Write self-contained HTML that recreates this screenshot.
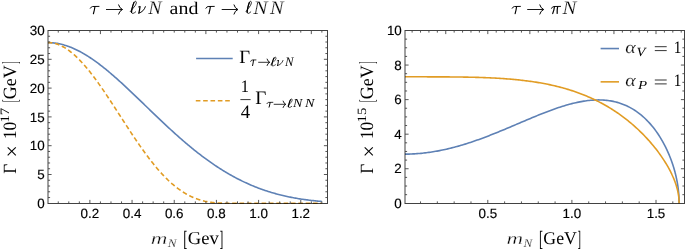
<!DOCTYPE html>
<html><head><meta charset="utf-8"><style>
html,body{margin:0;padding:0;background:#fff;}
svg{display:block;will-change:transform;} text{text-rendering:geometricPrecision;}
</style></head><body>
<svg width="685" height="249" viewBox="0 0 685 249">
<rect width="685" height="249" fill="#fff"/>
<defs><clipPath id="cl"><rect x="48" y="28" width="280" height="176"/></clipPath><clipPath id="cr"><rect x="405" y="28" width="280" height="176"/></clipPath></defs>
<g clip-path="url(#cl)" fill="none" stroke-width="1.6"><path d="M47.70,42.60 L48.75,42.61 L49.81,42.64 L50.86,42.69 L51.92,42.76 L52.97,42.85 L54.03,42.96 L55.08,43.09 L56.14,43.24 L57.19,43.41 L58.25,43.61 L59.30,43.82 L60.35,44.04 L61.41,44.29 L62.46,44.56 L63.52,44.85 L64.57,45.15 L65.63,45.48 L66.68,45.82 L67.74,46.18 L68.79,46.56 L69.84,46.95 L70.90,47.36 L71.95,47.80 L73.01,48.24 L74.06,48.71 L75.12,49.19 L76.17,49.68 L77.23,50.20 L78.28,50.73 L79.34,51.27 L80.39,51.83 L81.44,52.41 L82.50,53.00 L83.55,53.60 L84.61,54.22 L85.66,54.86 L86.72,55.50 L87.77,56.16 L88.83,56.84 L89.88,57.53 L90.93,58.23 L91.99,58.94 L93.04,59.67 L94.10,60.40 L95.15,61.15 L96.21,61.91 L97.26,62.69 L98.32,63.47 L99.37,64.26 L100.43,65.07 L101.48,65.88 L102.53,66.71 L103.59,67.54 L104.64,68.39 L105.70,69.24 L106.75,70.10 L107.81,70.97 L108.86,71.85 L109.92,72.74 L110.97,73.64 L112.02,74.54 L113.08,75.45 L114.13,76.37 L115.19,77.29 L116.24,78.22 L117.30,79.16 L118.35,80.10 L119.41,81.05 L120.46,82.00 L121.52,82.96 L122.57,83.93 L123.62,84.90 L124.68,85.87 L125.73,86.85 L126.79,87.84 L127.84,88.82 L128.90,89.81 L129.95,90.81 L131.01,91.81 L132.06,92.81 L133.11,93.81 L134.17,94.81 L135.22,95.82 L136.28,96.83 L137.33,97.84 L138.39,98.86 L139.44,99.87 L140.50,100.89 L141.55,101.90 L142.61,102.92 L143.66,103.94 L144.71,104.96 L145.77,105.98 L146.82,106.99 L147.88,108.01 L148.93,109.03 L149.99,110.05 L151.04,111.06 L152.10,112.08 L153.15,113.09 L154.20,114.11 L155.26,115.12 L156.31,116.13 L157.37,117.13 L158.42,118.14 L159.48,119.14 L160.53,120.14 L161.59,121.14 L162.64,122.14 L163.70,123.13 L164.75,124.12 L165.80,125.10 L166.86,126.09 L167.91,127.07 L168.97,128.04 L170.02,129.01 L171.08,129.98 L172.13,130.95 L173.19,131.90 L174.24,132.86 L175.29,133.81 L176.35,134.76 L177.40,135.70 L178.46,136.63 L179.51,137.57 L180.57,138.49 L181.62,139.41 L182.68,140.33 L183.73,141.24 L184.79,142.14 L185.84,143.04 L186.89,143.94 L187.95,144.82 L189.00,145.70 L190.06,146.58 L191.11,147.45 L192.17,148.31 L193.22,149.17 L194.28,150.02 L195.33,150.86 L196.38,151.70 L197.44,152.53 L198.49,153.36 L199.55,154.17 L200.60,154.99 L201.66,155.79 L202.71,156.59 L203.77,157.38 L204.82,158.16 L205.88,158.93 L206.93,159.70 L207.98,160.46 L209.04,161.22 L210.09,161.97 L211.15,162.70 L212.20,163.44 L213.26,164.16 L214.31,164.88 L215.37,165.59 L216.42,166.29 L217.47,166.99 L218.53,167.67 L219.58,168.35 L220.64,169.02 L221.69,169.69 L222.75,170.34 L223.80,170.99 L224.86,171.64 L225.91,172.27 L226.96,172.89 L228.02,173.51 L229.07,174.12 L230.13,174.73 L231.18,175.32 L232.24,175.91 L233.29,176.49 L234.35,177.06 L235.40,177.62 L236.46,178.18 L237.51,178.73 L238.56,179.27 L239.62,179.81 L240.67,180.33 L241.73,180.85 L242.78,181.36 L243.84,181.87 L244.89,182.36 L245.95,182.85 L247.00,183.33 L248.06,183.80 L249.11,184.27 L250.16,184.73 L251.22,185.18 L252.27,185.62 L253.33,186.06 L254.38,186.49 L255.44,186.91 L256.49,187.33 L257.55,187.74 L258.60,188.14 L259.65,188.53 L260.71,188.92 L261.76,189.30 L262.82,189.67 L263.87,190.04 L264.93,190.40 L265.98,190.75 L267.04,191.10 L268.09,191.44 L269.15,191.77 L270.20,192.09 L271.25,192.41 L272.31,192.73 L273.36,193.04 L274.42,193.34 L275.47,193.63 L276.53,193.92 L277.58,194.20 L278.64,194.48 L279.69,194.75 L280.74,195.01 L281.80,195.27 L282.85,195.52 L283.91,195.77 L284.96,196.01 L286.02,196.25 L287.07,196.48 L288.13,196.70 L289.18,196.92 L290.24,197.14 L291.29,197.35 L292.34,197.55 L293.40,197.75 L294.45,197.94 L295.51,198.13 L296.56,198.32 L297.62,198.50 L298.67,198.67 L299.73,198.84 L300.78,199.01 L301.83,199.17 L302.89,199.32 L303.94,199.48 L305.00,199.62 L306.05,199.77 L307.11,199.91 L308.16,200.04 L309.22,200.17 L310.27,200.30 L311.32,200.42 L312.38,200.54 L313.43,200.66 L314.49,200.77 L315.54,200.88 L316.60,200.98 L317.65,201.08 L318.71,201.18 L319.76,201.28 L320.82,201.37 L321.87,201.46" stroke="#5e81b5"/><path d="M47.70,42.60 L48.75,42.61 L49.81,42.66 L50.86,42.74 L51.92,42.86 L52.97,43.02 L54.03,43.23 L55.08,43.48 L56.14,43.78 L57.19,44.12 L58.25,44.51 L59.30,44.93 L60.35,45.40 L61.41,45.91 L62.46,46.45 L63.52,47.03 L64.57,47.65 L65.63,48.30 L66.68,48.98 L67.74,49.70 L68.79,50.46 L69.84,51.24 L70.90,52.06 L71.95,52.92 L73.01,53.80 L74.06,54.72 L75.12,55.66 L76.17,56.64 L77.23,57.65 L78.28,58.69 L79.34,59.75 L80.39,60.85 L81.44,61.97 L82.50,63.12 L83.55,64.29 L84.61,65.49 L85.66,66.72 L86.72,67.97 L87.77,69.24 L88.83,70.54 L89.88,71.85 L90.93,73.19 L91.99,74.55 L93.04,75.93 L94.10,77.33 L95.15,78.75 L96.21,80.19 L97.26,81.64 L98.32,83.11 L99.37,84.59 L100.43,86.09 L101.48,87.60 L102.53,89.13 L103.59,90.67 L104.64,92.22 L105.70,93.78 L106.75,95.35 L107.81,96.94 L108.86,98.52 L109.92,100.12 L110.97,101.73 L112.02,103.34 L113.08,104.96 L114.13,106.58 L115.19,108.20 L116.24,109.83 L117.30,111.47 L118.35,113.10 L119.41,114.73 L120.46,116.37 L121.52,118.01 L122.57,119.64 L123.62,121.27 L124.68,122.90 L125.73,124.53 L126.79,126.15 L127.84,127.77 L128.90,129.38 L129.95,130.99 L131.01,132.59 L132.06,134.19 L133.11,135.77 L134.17,137.35 L135.22,138.92 L136.28,140.47 L137.33,142.02 L138.39,143.56 L139.44,145.08 L140.50,146.59 L141.55,148.09 L142.61,149.58 L143.66,151.05 L144.71,152.51 L145.77,153.95 L146.82,155.38 L147.88,156.79 L148.93,158.18 L149.99,159.56 L151.04,160.92 L152.10,162.26 L153.15,163.58 L154.20,164.89 L155.26,166.17 L156.31,167.44 L157.37,168.68 L158.42,169.91 L159.48,171.11 L160.53,172.29 L161.59,173.45 L162.64,174.59 L163.70,175.71 L164.75,176.80 L165.80,177.88 L166.86,178.93 L167.91,179.95 L168.97,180.96 L170.02,181.94 L171.08,182.89 L172.13,183.83 L173.19,184.73 L174.24,185.62 L175.29,186.48 L176.35,187.32 L177.40,188.13 L178.46,188.92 L179.51,189.68 L180.57,190.42 L181.62,191.14 L182.68,191.83 L183.73,192.50 L184.79,193.15 L185.84,193.77 L186.89,194.37 L187.95,194.94 L189.00,195.49 L190.06,196.02 L191.11,196.53 L192.17,197.01 L193.22,197.48 L194.28,197.92 L195.33,198.33 L196.38,198.73 L197.44,199.11 L198.49,199.46 L199.55,199.80 L200.60,200.12 L201.66,200.41 L202.71,200.69 L203.77,200.95 L204.82,201.20 L205.88,201.42 L206.93,201.63 L207.98,201.83 L209.04,202.00 L210.09,202.17 L211.15,202.31 L212.20,202.45 L213.26,202.57 L214.31,202.68 L215.37,202.78 L216.42,202.87 L217.47,202.94 L218.53,203.01 L219.58,203.07 L220.64,203.12 L221.69,203.16 L222.75,203.19 L223.80,203.22 L224.86,203.24 L225.91,203.26 L226.96,203.27 L228.02,203.28 L229.07,203.29 L230.13,203.30 L231.18,203.30 L232.24,203.30 L233.29,203.30 L234.35,203.30 L235.40,203.30 L236.46,203.30 L237.51,203.30 L321.87,203.30" stroke="#e19c24" stroke-dasharray="4.6 2.75"/></g>
<g clip-path="url(#cr)" fill="none" stroke-width="1.6" stroke-linejoin="round"><path d="M405.00,154.16 L406.33,154.14 L407.67,154.12 L409.00,154.09 L410.34,154.04 L411.67,153.99 L413.01,153.92 L414.34,153.85 L415.68,153.76 L417.01,153.67 L418.35,153.57 L419.68,153.45 L421.02,153.33 L422.35,153.19 L423.69,153.05 L425.02,152.90 L426.36,152.74 L427.69,152.56 L429.03,152.38 L430.36,152.19 L431.70,151.99 L433.03,151.78 L434.37,151.56 L435.70,151.33 L437.04,151.10 L438.38,150.85 L439.71,150.59 L441.05,150.33 L442.38,150.06 L443.72,149.77 L445.05,149.48 L446.39,149.18 L447.72,148.87 L449.06,148.56 L450.39,148.23 L451.73,147.90 L453.06,147.55 L454.40,147.20 L455.73,146.85 L457.07,146.48 L458.40,146.11 L459.74,145.72 L461.07,145.34 L462.41,144.94 L463.74,144.54 L465.08,144.12 L466.41,143.71 L467.75,143.28 L469.08,142.85 L470.42,142.41 L471.76,141.97 L473.09,141.51 L474.43,141.06 L475.76,140.59 L477.10,140.12 L478.43,139.64 L479.77,139.16 L481.10,138.68 L482.44,138.18 L483.77,137.69 L485.11,137.18 L486.44,136.67 L487.78,136.16 L489.11,135.64 L490.45,135.12 L491.78,134.60 L493.12,134.07 L494.45,133.53 L495.79,132.99 L497.12,132.45 L498.46,131.91 L499.79,131.36 L501.13,130.81 L502.47,130.26 L503.80,129.70 L505.14,129.14 L506.47,128.58 L507.81,128.02 L509.14,127.46 L510.48,126.89 L511.81,126.33 L513.15,125.76 L514.48,125.19 L515.82,124.62 L517.15,124.05 L518.49,123.48 L519.82,122.91 L521.16,122.34 L522.49,121.77 L523.83,121.20 L525.16,120.64 L526.50,120.07 L527.83,119.51 L529.17,118.95 L530.50,118.39 L531.84,117.83 L533.17,117.27 L534.51,116.72 L535.85,116.17 L537.18,115.62 L538.52,115.08 L539.85,114.54 L541.19,114.01 L542.52,113.48 L543.86,112.96 L545.19,112.44 L546.53,111.92 L547.86,111.42 L549.20,110.91 L550.53,110.42 L551.87,109.93 L553.20,109.45 L554.54,108.97 L555.87,108.51 L557.21,108.05 L558.54,107.60 L559.88,107.16 L561.21,106.72 L562.55,106.30 L563.88,105.89 L565.22,105.48 L566.55,105.09 L567.89,104.71 L569.23,104.34 L570.56,103.98 L571.90,103.64 L573.23,103.30 L574.57,102.98 L575.90,102.67 L577.24,102.38 L578.57,102.10 L579.91,101.84 L581.24,101.59 L582.58,101.35 L583.91,101.13 L585.25,100.93 L586.58,100.74 L587.92,100.58 L589.25,100.43 L590.59,100.30 L591.92,100.18 L593.26,100.09 L594.59,100.02 L595.93,99.96 L597.26,99.93 L598.60,99.92 L599.93,99.93 L601.27,99.97 L602.61,100.02 L603.94,100.11 L605.28,100.21 L606.61,100.34 L607.95,100.50 L609.28,100.68 L610.62,100.89 L611.95,101.13 L613.29,101.40 L614.62,101.70 L615.96,102.02 L617.29,102.38 L618.63,102.77 L619.96,103.19 L621.30,103.65 L622.63,104.14 L623.97,104.66 L625.30,105.22 L626.64,105.82 L627.97,106.46 L629.31,107.14 L630.64,107.85 L631.98,108.61 L633.31,109.41 L634.65,110.25 L635.99,111.14 L637.32,112.08 L638.66,113.06 L639.99,114.10 L641.33,115.18 L642.66,116.32 L644.00,117.52 L645.33,118.77 L646.67,120.08 L648.00,121.45 L649.34,122.89 L650.67,124.39 L652.01,125.97 L653.34,127.62 L654.68,129.34 L656.01,131.15 L657.35,133.05 L658.68,135.04 L660.02,137.12 L661.35,139.32 L662.69,141.63 L664.02,144.07 L665.36,146.65 L666.70,149.38 L668.03,152.30 L669.37,155.42 L670.70,158.79 L670.84,159.16 L670.99,159.54 L671.13,159.93 L671.27,160.31 L671.41,160.70 L671.56,161.10 L671.70,161.50 L671.84,161.90 L671.98,162.30 L672.13,162.72 L672.27,163.13 L672.41,163.55 L672.55,163.97 L672.70,164.40 L672.84,164.84 L672.98,165.28 L673.12,165.72 L673.27,166.17 L673.41,166.63 L673.55,167.09 L673.69,167.56 L673.84,168.03 L673.98,168.51 L674.12,169.00 L674.26,169.49 L674.41,169.99 L674.55,170.50 L674.69,171.02 L674.83,171.55 L674.98,172.08 L675.12,172.63 L675.26,173.18 L675.40,173.75 L675.55,174.32 L675.69,174.91 L675.83,175.51 L675.97,176.12 L676.12,176.75 L676.26,177.39 L676.40,178.05 L676.54,178.72 L676.69,179.42 L676.83,180.13 L676.97,180.87 L677.12,181.64 L677.26,182.43 L677.40,183.25 L677.54,184.10 L677.69,185.00 L677.83,185.94 L677.97,186.94 L678.11,187.99 L678.26,189.13 L678.40,190.37 L678.54,191.74 L678.68,193.29 L678.83,195.12 L678.97,197.52 L679.11,203.30" stroke="#5e81b5"/><path d="M405.00,76.81 L406.33,76.81 L407.67,76.81 L409.00,76.81 L410.34,76.81 L411.67,76.81 L413.01,76.81 L414.34,76.81 L415.68,76.81 L417.01,76.81 L418.35,76.81 L419.68,76.82 L421.02,76.82 L422.35,76.82 L423.69,76.82 L425.02,76.82 L426.36,76.82 L427.69,76.83 L429.03,76.83 L430.36,76.83 L431.70,76.83 L433.03,76.84 L434.37,76.84 L435.70,76.85 L437.04,76.85 L438.38,76.86 L439.71,76.86 L441.05,76.87 L442.38,76.87 L443.72,76.88 L445.05,76.89 L446.39,76.90 L447.72,76.91 L449.06,76.92 L450.39,76.93 L451.73,76.94 L453.06,76.95 L454.40,76.96 L455.73,76.98 L457.07,76.99 L458.40,77.01 L459.74,77.03 L461.07,77.05 L462.41,77.07 L463.74,77.09 L465.08,77.11 L466.41,77.13 L467.75,77.16 L469.08,77.19 L470.42,77.22 L471.76,77.25 L473.09,77.28 L474.43,77.31 L475.76,77.35 L477.10,77.38 L478.43,77.42 L479.77,77.46 L481.10,77.51 L482.44,77.55 L483.77,77.60 L485.11,77.65 L486.44,77.70 L487.78,77.76 L489.11,77.82 L490.45,77.88 L491.78,77.94 L493.12,78.01 L494.45,78.07 L495.79,78.15 L497.12,78.22 L498.46,78.30 L499.79,78.38 L501.13,78.46 L502.47,78.55 L503.80,78.64 L505.14,78.74 L506.47,78.84 L507.81,78.94 L509.14,79.05 L510.48,79.16 L511.81,79.27 L513.15,79.39 L514.48,79.51 L515.82,79.64 L517.15,79.77 L518.49,79.91 L519.82,80.05 L521.16,80.20 L522.49,80.35 L523.83,80.51 L525.16,80.67 L526.50,80.84 L527.83,81.01 L529.17,81.19 L530.50,81.37 L531.84,81.56 L533.17,81.76 L534.51,81.96 L535.85,82.16 L537.18,82.38 L538.52,82.60 L539.85,82.83 L541.19,83.06 L542.52,83.30 L543.86,83.55 L545.19,83.80 L546.53,84.07 L547.86,84.34 L549.20,84.61 L550.53,84.90 L551.87,85.19 L553.20,85.49 L554.54,85.80 L555.87,86.12 L557.21,86.44 L558.54,86.78 L559.88,87.12 L561.21,87.47 L562.55,87.83 L563.88,88.20 L565.22,88.58 L566.55,88.97 L567.89,89.37 L569.23,89.78 L570.56,90.20 L571.90,90.63 L573.23,91.06 L574.57,91.52 L575.90,91.98 L577.24,92.45 L578.57,92.93 L579.91,93.43 L581.24,93.93 L582.58,94.45 L583.91,94.98 L585.25,95.52 L586.58,96.08 L587.92,96.64 L589.25,97.22 L590.59,97.81 L591.92,98.42 L593.26,99.04 L594.59,99.67 L595.93,100.32 L597.26,100.98 L598.60,101.66 L599.93,102.35 L601.27,103.05 L602.61,103.77 L603.94,104.50 L605.28,105.25 L606.61,106.02 L607.95,106.80 L609.28,107.60 L610.62,108.42 L611.95,109.25 L613.29,110.10 L614.62,110.97 L615.96,111.85 L617.29,112.76 L618.63,113.68 L619.96,114.62 L621.30,115.58 L622.63,116.56 L623.97,117.56 L625.30,118.58 L626.64,119.62 L627.97,120.69 L629.31,121.77 L630.64,122.88 L631.98,124.01 L633.31,125.16 L634.65,126.34 L635.99,127.54 L637.32,128.77 L638.66,130.02 L639.99,131.30 L641.33,132.61 L642.66,133.94 L644.00,135.31 L645.33,136.70 L646.67,138.13 L648.00,139.59 L649.34,141.08 L650.67,142.61 L652.01,144.17 L653.34,145.77 L654.68,147.42 L656.01,149.11 L657.35,150.84 L658.68,152.63 L660.02,154.47 L661.35,156.37 L662.69,158.33 L664.02,160.36 L665.36,162.47 L666.70,164.67 L668.03,166.97 L669.37,169.39 L670.70,171.96 L670.84,172.24 L670.99,172.53 L671.13,172.82 L671.27,173.11 L671.41,173.40 L671.56,173.70 L671.70,174.00 L671.84,174.30 L671.98,174.60 L672.13,174.90 L672.27,175.21 L672.41,175.52 L672.55,175.84 L672.70,176.15 L672.84,176.47 L672.98,176.79 L673.12,177.12 L673.27,177.45 L673.41,177.78 L673.55,178.12 L673.69,178.46 L673.84,178.81 L673.98,179.15 L674.12,179.51 L674.26,179.86 L674.41,180.23 L674.55,180.59 L674.69,180.97 L674.83,181.34 L674.98,181.73 L675.12,182.12 L675.26,182.51 L675.40,182.92 L675.55,183.32 L675.69,183.74 L675.83,184.17 L675.97,184.60 L676.12,185.04 L676.26,185.50 L676.40,185.96 L676.54,186.43 L676.69,186.92 L676.83,187.42 L676.97,187.94 L677.12,188.47 L677.26,189.02 L677.40,189.59 L677.54,190.18 L677.69,190.80 L677.83,191.45 L677.97,192.14 L678.11,192.87 L678.26,193.65 L678.40,194.50 L678.54,195.43 L678.68,196.49 L678.83,197.74 L678.97,199.37 L679.11,203.30" stroke="#e19c24"/></g>
<rect x="48.0" y="30.5" width="279.5" height="173.0" fill="none" stroke="#000" stroke-opacity="0.74" stroke-width="1"/>
<path d="M89.88,203.5 v-3.6 M132.06,203.5 v-3.6 M174.24,203.5 v-3.6 M216.42,203.5 v-3.6 M258.60,203.5 v-3.6 M300.78,203.5 v-3.6 M58.25,203.5 v-2.1 M68.79,203.5 v-2.1 M79.34,203.5 v-2.1 M100.43,203.5 v-2.1 M110.97,203.5 v-2.1 M121.52,203.5 v-2.1 M142.61,203.5 v-2.1 M153.15,203.5 v-2.1 M163.70,203.5 v-2.1 M184.79,203.5 v-2.1 M195.33,203.5 v-2.1 M205.88,203.5 v-2.1 M226.96,203.5 v-2.1 M237.51,203.5 v-2.1 M248.06,203.5 v-2.1 M269.15,203.5 v-2.1 M279.69,203.5 v-2.1 M290.24,203.5 v-2.1 M311.32,203.5 v-2.1 M321.87,203.5 v-2.1 M100.43,30.5 v3.6 M153.15,30.5 v3.6 M205.88,30.5 v3.6 M258.60,30.5 v3.6 M311.32,30.5 v3.6 M58.25,30.5 v2.1 M68.79,30.5 v2.1 M79.34,30.5 v2.1 M89.88,30.5 v2.1 M110.97,30.5 v2.1 M121.52,30.5 v2.1 M132.06,30.5 v2.1 M142.61,30.5 v2.1 M163.70,30.5 v2.1 M174.24,30.5 v2.1 M184.79,30.5 v2.1 M195.33,30.5 v2.1 M216.42,30.5 v2.1 M226.96,30.5 v2.1 M237.51,30.5 v2.1 M248.06,30.5 v2.1 M269.15,30.5 v2.1 M279.69,30.5 v2.1 M290.24,30.5 v2.1 M300.78,30.5 v2.1 M321.87,30.5 v2.1 M48.0,174.50 h3.6 M48.0,145.70 h3.6 M48.0,116.90 h3.6 M48.0,88.10 h3.6 M48.0,59.30 h3.6 M48.0,197.54 h2.1 M48.0,191.78 h2.1 M48.0,186.02 h2.1 M48.0,180.26 h2.1 M48.0,168.74 h2.1 M48.0,162.98 h2.1 M48.0,157.22 h2.1 M48.0,151.46 h2.1 M48.0,139.94 h2.1 M48.0,134.18 h2.1 M48.0,128.42 h2.1 M48.0,122.66 h2.1 M48.0,111.14 h2.1 M48.0,105.38 h2.1 M48.0,99.62 h2.1 M48.0,93.86 h2.1 M48.0,82.34 h2.1 M48.0,76.58 h2.1 M48.0,70.82 h2.1 M48.0,65.06 h2.1 M48.0,53.54 h2.1 M48.0,47.78 h2.1 M48.0,42.02 h2.1 M48.0,36.26 h2.1 M327.5,174.50 h-3.6 M327.5,145.70 h-3.6 M327.5,116.90 h-3.6 M327.5,88.10 h-3.6 M327.5,59.30 h-3.6 M327.5,197.54 h-2.1 M327.5,191.78 h-2.1 M327.5,186.02 h-2.1 M327.5,180.26 h-2.1 M327.5,168.74 h-2.1 M327.5,162.98 h-2.1 M327.5,157.22 h-2.1 M327.5,151.46 h-2.1 M327.5,139.94 h-2.1 M327.5,134.18 h-2.1 M327.5,128.42 h-2.1 M327.5,122.66 h-2.1 M327.5,111.14 h-2.1 M327.5,105.38 h-2.1 M327.5,99.62 h-2.1 M327.5,93.86 h-2.1 M327.5,82.34 h-2.1 M327.5,76.58 h-2.1 M327.5,70.82 h-2.1 M327.5,65.06 h-2.1 M327.5,53.54 h-2.1 M327.5,47.78 h-2.1 M327.5,42.02 h-2.1 M327.5,36.26 h-2.1" stroke="#444" stroke-width="0.9" fill="none"/>
<rect x="405.0" y="30.5" width="279.5" height="173.0" fill="none" stroke="#000" stroke-opacity="0.74" stroke-width="1"/>
<path d="M487.80,203.5 v-3.6 M571.90,203.5 v-3.6 M656.00,203.5 v-3.6 M420.52,203.5 v-2.1 M437.34,203.5 v-2.1 M454.16,203.5 v-2.1 M470.98,203.5 v-2.1 M504.62,203.5 v-2.1 M521.44,203.5 v-2.1 M538.26,203.5 v-2.1 M555.08,203.5 v-2.1 M588.72,203.5 v-2.1 M605.54,203.5 v-2.1 M622.36,203.5 v-2.1 M639.18,203.5 v-2.1 M672.82,203.5 v-2.1 M445.75,30.5 v3.6 M487.80,30.5 v3.6 M529.85,30.5 v3.6 M571.90,30.5 v3.6 M613.95,30.5 v3.6 M656.00,30.5 v3.6 M412.11,30.5 v2.1 M420.52,30.5 v2.1 M428.93,30.5 v2.1 M437.34,30.5 v2.1 M454.16,30.5 v2.1 M462.57,30.5 v2.1 M470.98,30.5 v2.1 M479.39,30.5 v2.1 M496.21,30.5 v2.1 M504.62,30.5 v2.1 M513.03,30.5 v2.1 M521.44,30.5 v2.1 M538.26,30.5 v2.1 M546.67,30.5 v2.1 M555.08,30.5 v2.1 M563.49,30.5 v2.1 M580.31,30.5 v2.1 M588.72,30.5 v2.1 M597.13,30.5 v2.1 M605.54,30.5 v2.1 M622.36,30.5 v2.1 M630.77,30.5 v2.1 M639.18,30.5 v2.1 M647.59,30.5 v2.1 M664.41,30.5 v2.1 M672.82,30.5 v2.1 M681.23,30.5 v2.1 M405.0,168.74 h3.6 M405.0,134.18 h3.6 M405.0,99.62 h3.6 M405.0,65.06 h3.6 M405.0,194.66 h2.1 M405.0,186.02 h2.1 M405.0,177.38 h2.1 M405.0,160.10 h2.1 M405.0,151.46 h2.1 M405.0,142.82 h2.1 M405.0,125.54 h2.1 M405.0,116.90 h2.1 M405.0,108.26 h2.1 M405.0,90.98 h2.1 M405.0,82.34 h2.1 M405.0,73.70 h2.1 M405.0,56.42 h2.1 M405.0,47.78 h2.1 M405.0,39.14 h2.1 M684.5,168.74 h-3.6 M684.5,134.18 h-3.6 M684.5,99.62 h-3.6 M684.5,65.06 h-3.6 M684.5,194.66 h-2.1 M684.5,186.02 h-2.1 M684.5,177.38 h-2.1 M684.5,160.10 h-2.1 M684.5,151.46 h-2.1 M684.5,142.82 h-2.1 M684.5,125.54 h-2.1 M684.5,116.90 h-2.1 M684.5,108.26 h-2.1 M684.5,90.98 h-2.1 M684.5,82.34 h-2.1 M684.5,73.70 h-2.1 M684.5,56.42 h-2.1 M684.5,47.78 h-2.1 M684.5,39.14 h-2.1" stroke="#444" stroke-width="0.9" fill="none"/>
<text x="89.88" y="218.30" font-family="Liberation Sans" font-style="normal" font-size="13.4" text-anchor="middle" fill="#000" stroke="#000" stroke-width="0.15">0.2</text>
<text x="132.06" y="218.30" font-family="Liberation Sans" font-style="normal" font-size="13.4" text-anchor="middle" fill="#000" stroke="#000" stroke-width="0.15">0.4</text>
<text x="174.24" y="218.30" font-family="Liberation Sans" font-style="normal" font-size="13.4" text-anchor="middle" fill="#000" stroke="#000" stroke-width="0.15">0.6</text>
<text x="216.42" y="218.30" font-family="Liberation Sans" font-style="normal" font-size="13.4" text-anchor="middle" fill="#000" stroke="#000" stroke-width="0.15">0.8</text>
<text x="258.60" y="218.30" font-family="Liberation Sans" font-style="normal" font-size="13.4" text-anchor="middle" fill="#000" stroke="#000" stroke-width="0.15">1.0</text>
<text x="300.78" y="218.30" font-family="Liberation Sans" font-style="normal" font-size="13.4" text-anchor="middle" fill="#000" stroke="#000" stroke-width="0.15">1.2</text>
<text x="487.80" y="218.30" font-family="Liberation Sans" font-style="normal" font-size="13.4" text-anchor="middle" fill="#000" stroke="#000" stroke-width="0.15">0.5</text>
<text x="571.90" y="218.30" font-family="Liberation Sans" font-style="normal" font-size="13.4" text-anchor="middle" fill="#000" stroke="#000" stroke-width="0.15">1.0</text>
<text x="656.00" y="218.30" font-family="Liberation Sans" font-style="normal" font-size="13.4" text-anchor="middle" fill="#000" stroke="#000" stroke-width="0.15">1.5</text>
<text x="44.60" y="207.98" font-family="Liberation Sans" font-style="normal" font-size="13.4" text-anchor="end" fill="#000" stroke="#000" stroke-width="0.15">0</text>
<text x="44.60" y="179.18" font-family="Liberation Sans" font-style="normal" font-size="13.4" text-anchor="end" fill="#000" stroke="#000" stroke-width="0.15">5</text>
<text x="44.60" y="150.38" font-family="Liberation Sans" font-style="normal" font-size="13.4" text-anchor="end" fill="#000" stroke="#000" stroke-width="0.15">10</text>
<text x="44.60" y="121.58" font-family="Liberation Sans" font-style="normal" font-size="13.4" text-anchor="end" fill="#000" stroke="#000" stroke-width="0.15">15</text>
<text x="44.60" y="92.78" font-family="Liberation Sans" font-style="normal" font-size="13.4" text-anchor="end" fill="#000" stroke="#000" stroke-width="0.15">20</text>
<text x="44.60" y="63.98" font-family="Liberation Sans" font-style="normal" font-size="13.4" text-anchor="end" fill="#000" stroke="#000" stroke-width="0.15">25</text>
<text x="44.60" y="35.18" font-family="Liberation Sans" font-style="normal" font-size="13.4" text-anchor="end" fill="#000" stroke="#000" stroke-width="0.15">30</text>
<text x="401.80" y="207.98" font-family="Liberation Sans" font-style="normal" font-size="13.4" text-anchor="end" fill="#000" stroke="#000" stroke-width="0.15">0</text>
<text x="401.80" y="173.42" font-family="Liberation Sans" font-style="normal" font-size="13.4" text-anchor="end" fill="#000" stroke="#000" stroke-width="0.15">2</text>
<text x="401.80" y="138.86" font-family="Liberation Sans" font-style="normal" font-size="13.4" text-anchor="end" fill="#000" stroke="#000" stroke-width="0.15">4</text>
<text x="401.80" y="104.30" font-family="Liberation Sans" font-style="normal" font-size="13.4" text-anchor="end" fill="#000" stroke="#000" stroke-width="0.15">6</text>
<text x="401.80" y="69.74" font-family="Liberation Sans" font-style="normal" font-size="13.4" text-anchor="end" fill="#000" stroke="#000" stroke-width="0.15">8</text>
<text x="401.80" y="35.18" font-family="Liberation Sans" font-style="normal" font-size="13.4" text-anchor="end" fill="#000" stroke="#000" stroke-width="0.15">10</text>
<path d="M90.28,8.27 Q91.20,6.60 92.60,6.50 L99.00,6.40" fill="none" stroke="#000" stroke-width="0.95" stroke-linecap="round"/><path d="M94.90,6.80 Q94.47,10.50 93.42,13.70" fill="none" stroke="#000" stroke-width="1.15" stroke-linecap="round"/>
<path d="M106.40,9.50 H121.90" fill="none" stroke="#000" stroke-width="0.9" stroke-linecap="round"/><path d="M118.59,4.90 Q119.37,8.12 122.50,9.50 Q119.37,10.88 118.59,14.10" fill="none" stroke="#000" stroke-width="0.99" stroke-linecap="round" stroke-linejoin="round"/>
<path d="M130.18,11.63 C131.76,9.29 134.06,7.70 135.36,5.36 C136.44,3.39 136.80,1.55 135.50,1.30 C134.64,1.18 133.56,3.14 132.84,5.60 C131.76,8.93 131.18,11.75 131.76,12.98 C132.34,13.97 133.92,13.35 135.65,11.88" fill="none" stroke="#000" stroke-width="0.81" stroke-linecap="round"/><path d="M134.06,2.28 C133.56,3.14 132.84,5.60 132.34,7.45 C131.76,9.42 131.40,11.14 131.54,12.37" fill="none" stroke="#000" stroke-width="1.23" stroke-linecap="round"/>
<path d="M138.42,6.84 Q139.16,6.10 139.98,6.62" fill="none" stroke="#000" stroke-width="0.90" stroke-linecap="round"/><path d="M139.98,6.62 Q139.68,9.80 138.87,13.13" fill="none" stroke="#000" stroke-width="1.25" stroke-linecap="round"/><path d="M138.87,13.13 C141.90,12.39 144.49,9.80 145.38,6.69" fill="none" stroke="#000" stroke-width="1.00" stroke-linecap="round"/>
<text transform="matrix(0.9990 0 0 0.9621 148.346 14.100)" font-family="Liberation Serif" font-style="italic" font-size="20.0" fill="#000" stroke="#fff" stroke-width="0.2">N</text>
<text transform="matrix(0.9954 0 0 0.8883 169.600 13.927)" font-family="Liberation Serif" font-style="normal" font-size="20.0" fill="#000">and</text>
<path d="M205.88,8.27 Q206.76,6.60 208.12,6.50 L214.31,6.40" fill="none" stroke="#000" stroke-width="0.95" stroke-linecap="round"/><path d="M210.35,6.80 Q209.92,10.50 208.91,13.70" fill="none" stroke="#000" stroke-width="1.15" stroke-linecap="round"/>
<path d="M222.10,9.50 H237.30" fill="none" stroke="#000" stroke-width="0.9" stroke-linecap="round"/><path d="M233.99,4.90 Q234.77,8.12 237.90,9.50 Q234.77,10.88 233.99,14.10" fill="none" stroke="#000" stroke-width="0.99" stroke-linecap="round" stroke-linejoin="round"/>
<path d="M246.00,11.63 C247.39,9.29 249.41,7.70 250.54,5.36 C251.49,3.39 251.80,1.55 250.67,1.30 C249.91,1.18 248.97,3.14 248.34,5.60 C247.39,8.93 246.89,11.75 247.39,12.98 C247.89,13.97 249.28,13.35 250.79,11.88" fill="none" stroke="#000" stroke-width="0.81" stroke-linecap="round"/><path d="M249.41,2.28 C248.97,3.14 248.34,5.60 247.89,7.45 C247.39,9.42 247.07,11.14 247.20,12.37" fill="none" stroke="#000" stroke-width="1.23" stroke-linecap="round"/>
<text transform="matrix(1.0753 0 0 0.9621 253.158 14.100)" font-family="Liberation Serif" font-style="italic" font-size="20.0" fill="#000" stroke="#fff" stroke-width="0.2">N</text>
<text transform="matrix(1.0198 0 0 0.9621 270.049 14.100)" font-family="Liberation Serif" font-style="italic" font-size="20.0" fill="#000" stroke="#fff" stroke-width="0.2">N</text>
<path d="M512.17,8.27 Q513.03,6.60 514.37,6.50 L520.42,6.40" fill="none" stroke="#000" stroke-width="0.95" stroke-linecap="round"/><path d="M516.54,6.80 Q516.13,10.50 515.14,13.70" fill="none" stroke="#000" stroke-width="1.15" stroke-linecap="round"/>
<path d="M527.60,9.50 H543.10" fill="none" stroke="#000" stroke-width="0.9" stroke-linecap="round"/><path d="M539.79,4.90 Q540.57,8.12 543.70,9.50 Q540.57,10.88 539.79,14.10" fill="none" stroke="#000" stroke-width="0.99" stroke-linecap="round" stroke-linejoin="round"/>
<path d="M551.5,8.3 Q552.2,6.6 553.9,6.5 L560.6,6.4" fill="none" stroke="#000" stroke-width="0.95" stroke-linecap="round"/><path d="M554.4,6.8 Q554.1,10.6 552.7,13.5" fill="none" stroke="#000" stroke-width="1.2" stroke-linecap="round"/><path d="M557.6,6.8 Q556.9,10.6 557.2,13.4" fill="none" stroke="#000" stroke-width="1.2" stroke-linecap="round"/>
<text transform="matrix(1.0407 0 0 0.9621 562.452 14.100)" font-family="Liberation Serif" font-style="italic" font-size="20.0" fill="#000" stroke="#fff" stroke-width="0.2">N</text>
<text transform="matrix(1.1490 0 0 0.8489 150.870 244.000)" font-family="Liberation Serif" font-style="italic" font-size="20.0" fill="#000" stroke="#fff" stroke-width="0.35">m</text>
<text transform="matrix(0.6591 0 0 0.5956 167.697 246.800)" font-family="Liberation Serif" font-style="italic" font-size="20.0" fill="#000" stroke="#fff" stroke-width="0.35">N</text>
<text transform="matrix(0.5165 0 0 1.0874 183.533 245.690)" font-family="Liberation Serif" font-style="normal" font-size="20.0" fill="#000" stroke="#000" stroke-width="0.35">[</text>
<text transform="matrix(0.9292 0 0 0.9153 187.838 244.121)" font-family="Liberation Serif" font-style="normal" font-size="20.0" fill="#000">Gev</text>
<text transform="matrix(0.4491 0 0 1.0874 219.975 245.690)" font-family="Liberation Serif" font-style="normal" font-size="20.0" fill="#000" stroke="#000" stroke-width="0.35">]</text>
<text transform="matrix(1.1490 0 0 0.8489 506.570 244.000)" font-family="Liberation Serif" font-style="italic" font-size="20.0" fill="#000" stroke="#fff" stroke-width="0.35">m</text>
<text transform="matrix(0.6591 0 0 0.5956 523.397 246.800)" font-family="Liberation Serif" font-style="italic" font-size="20.0" fill="#000" stroke="#fff" stroke-width="0.35">N</text>
<text transform="matrix(0.5165 0 0 1.0874 539.233 245.690)" font-family="Liberation Serif" font-style="normal" font-size="20.0" fill="#000" stroke="#000" stroke-width="0.35">[</text>
<text transform="matrix(0.8878 0 0 0.8933 543.372 243.830)" font-family="Liberation Serif" font-style="normal" font-size="20.0" fill="#000">GeV</text>
<text transform="matrix(0.4042 0 0 1.0874 578.008 245.690)" font-family="Liberation Serif" font-style="normal" font-size="20.0" fill="#000" stroke="#000" stroke-width="0.35">]</text>
<g transform="translate(15.70,173.50) rotate(-90)">
<text transform="matrix(0.8606 0 0 0.9316 -0.296 0.000)" font-family="Liberation Serif" font-style="normal" font-size="20.0" fill="#000">Γ</text>
<text transform="matrix(1.0941 0 0 1.0928 16.069 3.017)" font-family="Liberation Serif" font-style="normal" font-size="20.0" fill="#000">×</text>
<text transform="matrix(0.8638 0 0 0.9410 34.482 0.316)" font-family="Liberation Serif" font-style="normal" font-size="20.0" fill="#000">10</text>
<text transform="matrix(0.7359 0 0 0.6438 51.006 -6.900)" font-family="Liberation Serif" font-style="normal" font-size="20.0" fill="#000">17</text>
<text transform="matrix(0.3593 0 0 1.0572 71.467 1.771)" font-family="Liberation Serif" font-style="normal" font-size="20.0" fill="#000">[</text>
<text transform="matrix(0.8960 0 0 0.9376 74.365 0.016)" font-family="Liberation Serif" font-style="normal" font-size="20.0" fill="#000">GeV</text>
<text transform="matrix(0.3368 0 0 1.0572 109.657 1.771)" font-family="Liberation Serif" font-style="normal" font-size="20.0" fill="#000">]</text>
</g>
<g transform="translate(372.70,173.50) rotate(-90)">
<text transform="matrix(0.8606 0 0 0.9316 -0.296 0.000)" font-family="Liberation Serif" font-style="normal" font-size="20.0" fill="#000">Γ</text>
<text transform="matrix(1.0941 0 0 1.0928 16.069 3.017)" font-family="Liberation Serif" font-style="normal" font-size="20.0" fill="#000">×</text>
<text transform="matrix(0.8638 0 0 0.9410 34.482 0.316)" font-family="Liberation Serif" font-style="normal" font-size="20.0" fill="#000">10</text>
<text transform="matrix(0.7445 0 0 0.6344 50.991 -7.024)" font-family="Liberation Serif" font-style="normal" font-size="20.0" fill="#000">15</text>
<text transform="matrix(0.3593 0 0 1.0572 71.467 1.771)" font-family="Liberation Serif" font-style="normal" font-size="20.0" fill="#000">[</text>
<text transform="matrix(0.8960 0 0 0.9376 74.365 0.016)" font-family="Liberation Serif" font-style="normal" font-size="20.0" fill="#000">GeV</text>
<text transform="matrix(0.3368 0 0 1.0572 109.657 1.771)" font-family="Liberation Serif" font-style="normal" font-size="20.0" fill="#000">]</text>
</g>
<path d="M196.1,58.5 H232.7" stroke="#5e81b5" stroke-width="1.6"/>
<text transform="matrix(0.9379 0 0 0.9316 239.360 62.600)" font-family="Liberation Serif" font-style="normal" font-size="20.0" fill="#000">Γ</text>
<path d="M250.67,61.37 Q251.23,60.07 252.09,60.00 L255.99,59.92" fill="none" stroke="#000" stroke-width="0.81" stroke-linecap="round"/><path d="M253.49,60.23 Q253.23,63.09 252.59,65.58" fill="none" stroke="#000" stroke-width="0.98" stroke-linecap="round"/>
<path d="M258.60,62.30 H269.20" fill="none" stroke="#000" stroke-width="0.8" stroke-linecap="round"/><path d="M267.08,59.10 Q267.62,61.34 269.80,62.30 Q267.62,63.26 267.08,65.50" fill="none" stroke="#000" stroke-width="0.88" stroke-linecap="round" stroke-linejoin="round"/>
<path d="M270.70,64.59 C272.09,62.92 274.11,61.78 275.24,60.10 C276.19,58.70 276.50,57.38 275.37,57.20 C274.61,57.11 273.67,58.52 273.03,60.28 C272.09,62.66 271.59,64.68 272.09,65.56 C272.59,66.26 273.98,65.82 275.49,64.77" fill="none" stroke="#000" stroke-width="0.68" stroke-linecap="round"/><path d="M274.11,57.90 C273.67,58.52 273.03,60.28 272.59,61.60 C272.09,63.01 271.77,64.24 271.90,65.12" fill="none" stroke="#000" stroke-width="1.04" stroke-linecap="round"/>
<path d="M277.19,60.58 Q277.81,60.00 278.49,60.41" fill="none" stroke="#000" stroke-width="0.68" stroke-linecap="round"/><path d="M278.49,60.41 Q278.24,62.90 277.56,65.51" fill="none" stroke="#000" stroke-width="0.94" stroke-linecap="round"/><path d="M277.56,65.51 C280.10,64.93 282.27,62.90 283.01,60.46" fill="none" stroke="#000" stroke-width="0.75" stroke-linecap="round"/>
<text transform="matrix(0.6383 0 0 0.6491 284.893 65.800)" font-family="Liberation Serif" font-style="italic" font-size="20.0" fill="#000">N</text>
<path d="M195.8,100.8 H231" stroke="#e19c24" stroke-width="1.6" stroke-dasharray="4.6 2.75"/>
<text transform="matrix(0.8237 0 0 0.8786 240.852 91.800)" font-family="Liberation Serif" font-style="normal" font-size="20.0" fill="#000">1</text>
<path d="M240.4,99.6 H250.6" stroke="#000" stroke-width="0.8"/>
<text transform="matrix(0.9358 0 0 0.9496 240.834 117.500)" font-family="Liberation Serif" font-style="normal" font-size="20.0" fill="#000">4</text>
<text transform="matrix(0.9573 0 0 0.9545 255.348 104.400)" font-family="Liberation Serif" font-style="normal" font-size="20.0" fill="#000">Γ</text>
<path d="M266.99,103.57 Q267.61,102.46 268.55,102.40 L272.86,102.33" fill="none" stroke="#000" stroke-width="0.81" stroke-linecap="round"/><path d="M270.10,102.60 Q269.81,105.05 269.10,107.17" fill="none" stroke="#000" stroke-width="0.98" stroke-linecap="round"/>
<path d="M274.10,104.30 H285.20" fill="none" stroke="#000" stroke-width="0.8" stroke-linecap="round"/><path d="M283.08,101.10 Q283.62,103.34 285.80,104.30 Q283.62,105.26 283.08,107.50" fill="none" stroke="#000" stroke-width="0.88" stroke-linecap="round" stroke-linejoin="round"/>
<path d="M287.45,106.22 C288.68,104.59 290.47,103.47 291.48,101.84 C292.32,100.46 292.60,99.17 291.59,99.00 C290.92,98.91 290.08,100.29 289.52,102.01 C288.68,104.33 288.23,106.31 288.68,107.17 C289.13,107.86 290.36,107.43 291.70,106.40" fill="none" stroke="#000" stroke-width="0.68" stroke-linecap="round"/><path d="M290.47,99.69 C290.08,100.29 289.52,102.01 289.13,103.30 C288.68,104.68 288.40,105.88 288.51,106.74" fill="none" stroke="#000" stroke-width="1.04" stroke-linecap="round"/>
<text transform="matrix(0.7007 0 0 0.6185 292.903 107.400)" font-family="Liberation Serif" font-style="italic" font-size="20.0" fill="#000">N</text>
<text transform="matrix(0.7076 0 0 0.6185 304.904 107.400)" font-family="Liberation Serif" font-style="italic" font-size="20.0" fill="#000">N</text>
<path d="M600.6,48.55 H619.0" stroke="#5e81b5" stroke-width="1.6"/>
<text transform="matrix(0.9966 0 0 0.8819 625.206 53.119)" font-family="Liberation Serif" font-style="italic" font-size="20.0" fill="#000" stroke="#fff" stroke-width="0.2">α</text>
<text transform="matrix(0.7254 0 0 0.6269 636.542 55.610)" font-family="Liberation Serif" font-style="italic" font-size="20.0" fill="#000">V</text>
<path d="M654.8,46.70 H666.7 M654.8,50.60 H666.7" stroke="#000" stroke-width="0.8"/>
<text transform="matrix(0.7669 0 0 0.8786 673.652 52.900)" font-family="Liberation Serif" font-style="normal" font-size="20.0" fill="#000">1</text>
<path d="M600.6,81.85 H619.0" stroke="#e19c24" stroke-width="1.6"/>
<text transform="matrix(0.9966 0 0 0.8819 625.206 86.419)" font-family="Liberation Serif" font-style="italic" font-size="20.0" fill="#000" stroke="#fff" stroke-width="0.2">α</text>
<text transform="matrix(0.7447 0 0 0.6185 637.880 88.700)" font-family="Liberation Serif" font-style="italic" font-size="20.0" fill="#000">P</text>
<path d="M654.8,80.00 H666.7 M654.8,83.90 H666.7" stroke="#000" stroke-width="0.8"/>
<text transform="matrix(0.7669 0 0 0.8786 673.652 86.200)" font-family="Liberation Serif" font-style="normal" font-size="20.0" fill="#000">1</text>
</svg>
</body></html>
